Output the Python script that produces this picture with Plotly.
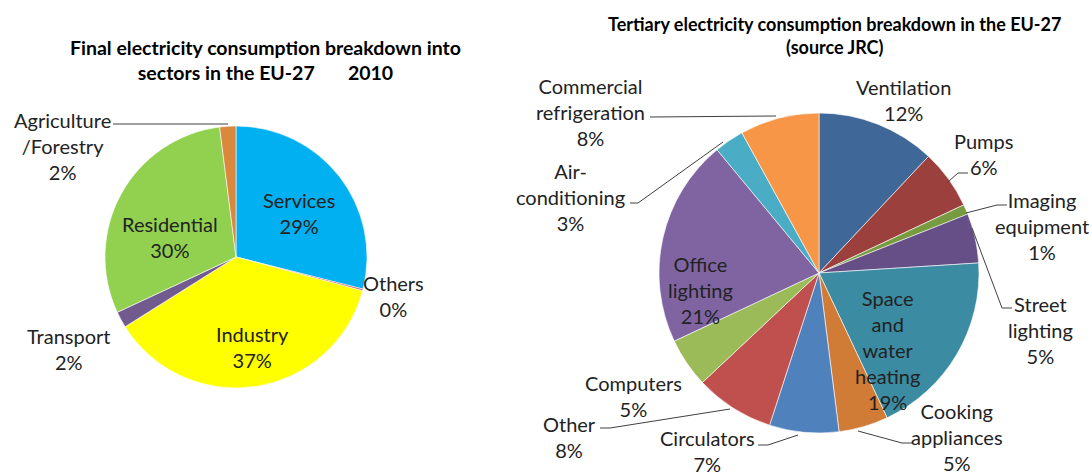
import plotly.graph_objects as go

W, H = 1092, 476

# Final electricity consumption by sector, EU-27, 2010 (share, %)
sector_names = ["Services", "Others", "Industry", "Transport", "Residential", "Agriculture<br>/Forestry"]
sector_share = [29, 0.2, 37, 2, 30, 2]
sector_colors = ["#00B0F0", "#C0504D", "#FFFF00", "#705A8E", "#92D050", "#DA883D"]

# Tertiary electricity consumption by end use, EU-27 (share, %)
use_names = ["Ventilation", "Pumps", "Imaging<br>equipment", "Street<br>lighting",
             "Space<br>and<br>water<br>heating", "Cooking<br>appliances", "Circulators",
             "Other", "Computers", "Office<br>lighting", "Air-<br>conditioning",
             "Commercial<br>refrigeration"]
use_share = [12, 6, 1, 5, 19, 5, 7, 8, 5, 21, 3, 8]
use_colors = ["#3F6797", "#9B403D", "#779B3F", "#664E87", "#3B8BA3", "#D07B36",
              "#4F81BD", "#C0504D", "#9BBB59", "#8064A2", "#4BACC6", "#F79646"]

# label block centres (px from top-left) for each slice
sector_label_pos = [(299, 213), (393, 296), (252, 347), (69, 349), (170, 237), (62, 146)]
use_label_pos = [(903, 100), (983, 154), (1042, 226), (1040, 330), (887, 350), (957, 437),
                 (707, 451), (569, 437), (633, 396), (700, 290), (570, 197), (590, 112)]

# leader lines from outside labels to their slices (px)
leaders = [
    [(113, 124), (228, 124)],
    [(650, 117), (776, 116)],
    [(630, 203), (638, 203), (723, 142)],
    [(968, 173), (958, 173), (948, 182)],
    [(1007, 205), (997, 205), (966, 213)],
    [(1012, 308), (1002, 308), (972, 228)],
    [(912, 443), (902, 443), (858, 431)],
    [(758, 445), (768, 445), (798, 435)],
    [(600, 428), (610, 428), (730, 409)],
]

FONT = "Lato"
LABEL_SIZE = 20
TEXT_COLOR = "#222222"


def px(x, y):
    return x / W, 1 - y / H


def domain(cx, cy, r):
    x0, y0 = px(cx - r, cy + r)
    x1, y1 = px(cx + r, cy - r)
    return dict(x=[x0, x1], y=[y0, y1])


fig = go.Figure()

fig.add_trace(go.Pie(
    labels=sector_names, values=sector_share, sort=False, direction="clockwise",
    rotation=0, textinfo="none", hoverinfo="label+percent",
    marker=dict(colors=sector_colors, line=dict(color="white", width=0.6)),
    domain=domain(236, 257, 131), showlegend=False,
))

fig.add_trace(go.Pie(
    labels=use_names, values=use_share, sort=False, direction="clockwise",
    rotation=0, textinfo="none", hoverinfo="label+percent",
    marker=dict(colors=use_colors, line=dict(color="white", width=0.6)),
    domain=domain(819, 273, 160), showlegend=False,
))

annotations = []
for names, vals, pos in ((sector_names, sector_share, sector_label_pos),
                         (use_names, use_share, use_label_pos)):
    for name, v, (x, y) in zip(names, vals, pos):
        ax, ay = px(x, y)
        annotations.append(dict(
            x=ax, y=ay, xref="paper", yref="paper", showarrow=False,
            text=f"{name}<br>{v:.0f}%", xanchor="center", yanchor="middle",
            font=dict(family=FONT, size=LABEL_SIZE, color=TEXT_COLOR),
        ))

gap = "\u00a0" * 7
titles = [
    ("Final electricity consumption breakdown into<br>sectors in the EU-27" + gap + "2010", 265, 60, 19.5),
    ("Tertiary electricity consumption breakdown in the EU-27<br>(source JRC)", 834, 36, 18),
]
for text, x, y, size in titles:
    ax, ay = px(x, y)
    annotations.append(dict(
        x=ax, y=ay, xref="paper", yref="paper", showarrow=False, text=f"<b>{text}</b>",
        xanchor="center", yanchor="middle",
        font=dict(family=FONT, size=size, color="#000000"),
    ))

shapes = []
for pts in leaders:
    path = "M " + " L ".join(f"{px(x, y)[0]},{px(x, y)[1]}" for x, y in pts)
    shapes.append(dict(type="path", path=path, xref="paper", yref="paper",
                       line=dict(color="#404040", width=1)))

fig.update_layout(
    width=W, height=H, margin=dict(l=0, r=0, t=0, b=0),
    paper_bgcolor="white", plot_bgcolor="white",
    annotations=annotations, shapes=shapes,
)

fig.write_html("out.html")
